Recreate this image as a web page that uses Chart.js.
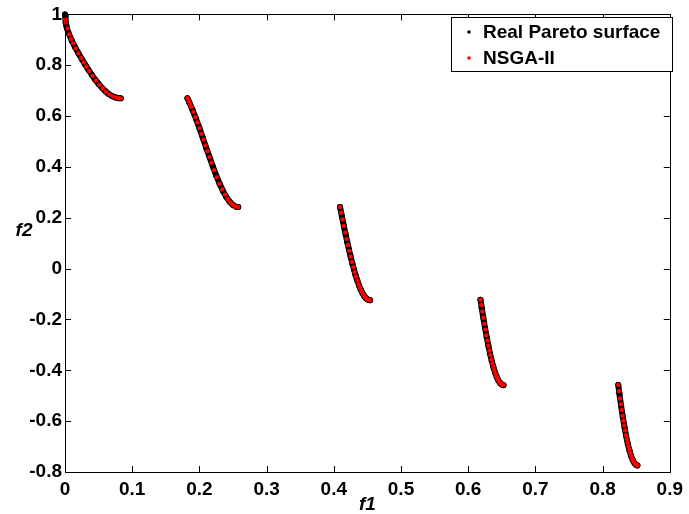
<!DOCTYPE html>
<html>
<head>
<meta charset="utf-8">
<script src="https://cdn.jsdelivr.net/npm/chart.js@4/dist/chart.umd.min.js"></script>
<style>
  body { margin: 0; background: #fff; }
  canvas { display: block; }
</style>
</head>
<body>
<canvas id="chart" width="689" height="514"></canvas>
<script>
// real front, segments separated by null
const realF1 = [
    0, 0.001, 0.002, 0.003, 0.005, 0.01, 0.015, 0.02, 0.025, 0.03, 0.035, 0.04, 0.045, 0.05, 0.055, 0.06, 0.065, 0.07, 0.075, 0.08, 0.083, null,
    0.1822, 0.185, 0.19, 0.195, 0.2, 0.205, 0.21, 0.215, 0.22, 0.225, 0.23, 0.235, 0.24, 0.245, 0.25, 0.255, 0.2578, null,
    0.4093, 0.412, 0.415, 0.4175, 0.42, 0.4225, 0.425, 0.4275, 0.43, 0.4325, 0.435, 0.4375, 0.44, 0.4425, 0.445, 0.4475, 0.45, 0.4525, 0.4539, null,
    0.6183, 0.62, 0.6225, 0.625, 0.6275, 0.63, 0.6325, 0.635, 0.6375, 0.64, 0.6425, 0.645, 0.6475, 0.65, 0.6525, null,
    0.8233, 0.825, 0.8275, 0.83, 0.8325, 0.835, 0.8375, 0.84, 0.8425, 0.845, 0.8475, 0.85, 0.8518
];
const realF2 = [
    1, 0.9684, 0.9552, 0.9449, 0.9285, 0.8969, 0.8707, 0.8468, 0.8242, 0.8025, 0.7817, 0.7620, 0.7434, 0.7264, 0.7112, 0.6980, 0.6871, 0.6788, 0.6731, 0.6702, 0.6697, null,
    0.6699, 0.6539, 0.6228, 0.5889, 0.5528, 0.5151, 0.4768, 0.4387, 0.4017, 0.3666, 0.3343, 0.3058, 0.2818, 0.2630, 0.2500, 0.2431, 0.2422, null,
    0.2423, 0.2064, 0.1674, 0.1358, 0.1050, 0.0756, 0.0476, 0.0211, -0.0036, -0.0263, -0.0471, -0.0656, -0.0818, -0.0955, -0.1066, -0.1151, -0.1208, -0.1238, -0.1242, null,
    -0.1225, -0.1518, -0.1933, -0.2325, -0.2693, -0.3034, -0.3346, -0.3627, -0.3874, -0.4087, -0.4264, -0.4402, -0.4502, -0.4562, -0.4583, null,
    -0.4578, -0.4917, -0.5389, -0.5825, -0.6222, -0.6578, -0.6890, -0.7154, -0.7371, -0.7538, -0.7655, -0.7720, -0.7743
];

// NSGA-II solutions
const nsgaF1 = [
    0.0004, 0.001, 0.003, 0.006, 0.009, 0.012, 0.016, 0.02, 0.024, 0.028, 0.032, 0.036, 0.041, 0.046, 0.051, 0.056, 0.061, 0.066, 0.071, 0.076, 0.08, 0.083,
    0.1822, 0.184, 0.186, 0.188, 0.191, 0.194, 0.197, 0.2, 0.203, 0.206, 0.209, 0.212, 0.215, 0.218, 0.222, 0.226, 0.23, 0.234, 0.238, 0.242, 0.246, 0.25, 0.254, 0.2578,
    0.4093, 0.411, 0.413, 0.415, 0.417, 0.419, 0.421, 0.423, 0.425, 0.427, 0.429, 0.431, 0.433, 0.435, 0.437, 0.439, 0.441, 0.443, 0.445, 0.447, 0.449, 0.451, 0.4539,
    0.6183, 0.6195, 0.621, 0.6225, 0.624, 0.6255, 0.627, 0.6285, 0.63, 0.6315, 0.633, 0.6345, 0.636, 0.6375, 0.639, 0.6405, 0.642, 0.6435, 0.645, 0.6465, 0.648, 0.6495, 0.651, 0.6525,
    0.8233, 0.8245, 0.826, 0.8272, 0.8285, 0.8298, 0.831, 0.8322, 0.8335, 0.8348, 0.836, 0.8372, 0.8385, 0.8398, 0.841, 0.8423, 0.8436, 0.845, 0.8463, 0.8478, 0.8492, 0.8505, 0.8518
];
const nsgaF2 = [
    0.98, 0.9684, 0.9449, 0.9214, 0.9026, 0.8860, 0.8658, 0.8468, 0.8287, 0.8111, 0.7941, 0.7777, 0.7581, 0.7399, 0.7232, 0.7084, 0.6956, 0.6853, 0.6774, 0.6723, 0.6702, 0.6697,
    0.6699, 0.6597, 0.6479, 0.6356, 0.6163, 0.5959, 0.5747, 0.5528, 0.5303, 0.5075, 0.4845, 0.4615, 0.4387, 0.4163, 0.3873, 0.3598, 0.3343, 0.3112, 0.2909, 0.2737, 0.2599, 0.2500, 0.2440, 0.2422,
    0.2423, 0.2197, 0.1933, 0.1674, 0.1420, 0.1172, 0.0931, 0.0699, 0.0476, 0.0263, 0.0060, -0.0130, -0.0307, -0.0471, -0.0622, -0.0757, -0.0876, -0.0979, -0.1066, -0.1136, -0.1189, -0.1224, -0.1242,
    -0.1225, -0.1432, -0.1684, -0.1933, -0.2168, -0.2399, -0.2619, -0.2829, -0.3034, -0.3221, -0.3402, -0.3571, -0.3726, -0.3874, -0.4002, -0.4122, -0.4229, -0.4319, -0.4402, -0.4462, -0.4514, -0.4550, -0.4570, -0.4583,
    -0.4578, -0.4817, -0.5106, -0.5332, -0.5563, -0.5790, -0.5984, -0.6174, -0.6364, -0.6550, -0.6703, -0.6853, -0.6996, -0.7133, -0.7241, -0.7354, -0.7444, -0.7538, -0.7599, -0.7663, -0.7699, -0.7726, -0.7743
];

const seriesLabels = ['Real Pareto surface', 'NSGA-II'];
const seriesColors = ['#000000', '#ff0000'];
const xTitle = 'f1';
const yTitle = 'f2';

const FONT = '"Liberation Sans", Arial, sans-serif';

const toPoints = (xs, ys) => xs.map((x, i) => ({ x: x, y: ys[i] }));

// box, inward ticks, axis titles and the legend, matlab style
const matlabFrame = {
    id: 'matlabFrame',
    afterDraw(chart) {
        const ctx = chart.ctx;
        const { left, right, top, bottom } = chart.chartArea;
        const xs = chart.scales.x;
        const ys = chart.scales.y;
        const tick = 6;

        ctx.save();
        ctx.strokeStyle = '#000';
        ctx.lineWidth = 1;
        ctx.beginPath();
        xs.ticks.forEach(t => {
            const px = Math.round(xs.getPixelForValue(t.value)) + 0.5;
            ctx.moveTo(px, bottom); ctx.lineTo(px, bottom - tick);
            ctx.moveTo(px, top); ctx.lineTo(px, top + tick);
        });
        ys.ticks.forEach(t => {
            const py = Math.round(ys.getPixelForValue(t.value)) + 0.5;
            ctx.moveTo(left, py); ctx.lineTo(left + tick, py);
            ctx.moveTo(right, py); ctx.lineTo(right - tick, py);
        });
        ctx.stroke();
        ctx.strokeRect(Math.round(left) + 0.5, Math.round(top) + 0.5, Math.round(right - left), Math.round(bottom - top));

        // axis titles (f2 is not rotated)
        ctx.fillStyle = '#000';
        ctx.font = 'italic bold 19px ' + FONT;
        ctx.textAlign = 'center';
        ctx.textBaseline = 'middle';
        ctx.fillText(xTitle, (left + right) / 2, 505);
        ctx.fillText(yTitle, 24, 231);

        // legend
        const lx = 451, ly = 17, lw = 221, lh = 54;
        ctx.fillStyle = '#fff';
        ctx.fillRect(lx, ly, lw, lh);
        ctx.strokeRect(lx + 0.5, ly + 0.5, lw, lh);
        ctx.font = 'bold 19px ' + FONT;
        ctx.textAlign = 'left';
        seriesLabels.forEach((label, i) => {
            const cy = 32 + i * 26;
            ctx.fillStyle = seriesColors[i];
            ctx.beginPath();
            ctx.arc(469, cy, 1.8, 0, Math.PI * 2);
            ctx.fill();
            ctx.fillStyle = '#000';
            ctx.fillText(label, 483, cy + 1);
        });
        ctx.restore();
    }
};

const tickFont = { family: FONT, size: 19, weight: 'bold' };

new Chart(document.getElementById('chart').getContext('2d'), {
    type: 'scatter',
    data: {
        datasets: [
            {
                label: seriesLabels[0],
                data: toPoints(realF1, realF2),
                showLine: true,
                spanGaps: false,
                borderColor: seriesColors[0],
                backgroundColor: seriesColors[0],
                borderWidth: 6,
                borderCapStyle: 'round',
                pointRadius: 3,
                pointBorderWidth: 0,
                tension: 0,
                clip: false,
                order: 2
            },
            {
                label: seriesLabels[1],
                data: toPoints(nsgaF1, nsgaF2),
                borderColor: seriesColors[1],
                backgroundColor: seriesColors[1],
                pointRadius: 2.2,
                pointBorderWidth: 0,
                clip: false,
                order: 1
            }
        ]
    },
    options: {
        responsive: false,
        animation: false,
        events: [],
        layout: { padding: { left: 0, right: 13, top: 13, bottom: 0 } },
        plugins: {
            legend: { display: false },
            tooltip: { enabled: false }
        },
        scales: {
            x: {
                type: 'linear',
                min: 0,
                max: 0.9,
                grid: { display: false, drawTicks: false },
                border: { display: false },
                ticks: {
                    stepSize: 0.1,
                    padding: 6,
                    color: '#000',
                    font: tickFont,
                    maxRotation: 0,
                    callback: v => String(+v.toFixed(1))
                },
                afterFit: scale => { scale.height = 42; }
            },
            y: {
                type: 'linear',
                min: -0.8,
                max: 1,
                grid: { display: false, drawTicks: false },
                border: { display: false },
                ticks: {
                    stepSize: 0.2,
                    padding: 3,
                    color: '#000',
                    font: tickFont,
                    callback: v => String(+v.toFixed(1))
                },
                afterFit: scale => { scale.width = 65; }
            }
        }
    },
    plugins: [matlabFrame]
});
</script>
</body>
</html>
